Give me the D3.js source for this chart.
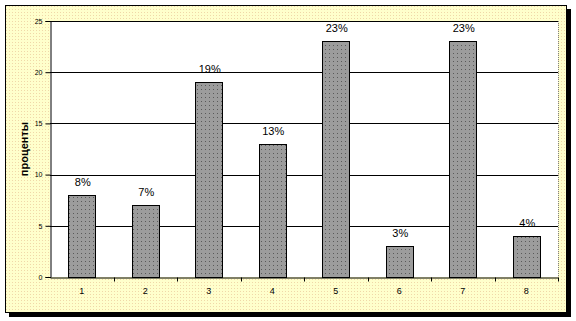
<!DOCTYPE html>
<html>
<head>
<meta charset="utf-8">
<script src="https://cdn.jsdelivr.net/npm/d3@7"></script>
<style>
  body { margin: 0; background: #fff; }
  svg text { font-family: Arial, "Liberation Sans", sans-serif; }
</style>
</head>
<body>
<div id="chart"></div>
<script>
// data
var categories = ['1', '2', '3', '4', '5', '6', '7', '8'];
var values = [8, 7, 19, 13, 23, 3, 23, 4];
var valueLabels = ['8%', '7%', '19%', '13%', '23%', '3%', '23%', '4%'];
var yTicks = [0, 5, 10, 15, 20, 25];
var yTitle = 'проценты';

var width = 576, height = 321;
var plot = { left: 50, top: 21, right: 558, bottom: 277 };

var svg = d3.select('#chart').append('svg')
  .attr('width', width)
  .attr('height', height);

var defs = svg.append('defs');
// dotted yellow background
var bg = defs.append('pattern')
  .attr('id', 'bgDots')
  .attr('width', 3).attr('height', 3)
  .attr('patternUnits', 'userSpaceOnUse');
bg.append('rect').attr('width', 3).attr('height', 3).attr('fill', '#ffffcc');
bg.append('rect').attr('x', 0).attr('y', 0).attr('width', 1).attr('height', 1).attr('fill', '#f0d8a8');

// dotted gray bar fill
var bp = defs.append('pattern')
  .attr('id', 'barDots')
  .attr('width', 4).attr('height', 4)
  .attr('patternUnits', 'userSpaceOnUse');
bp.append('rect').attr('width', 4).attr('height', 4).attr('fill', '#9c9c9c');
bp.append('rect').attr('x', 1).attr('y', 1).attr('width', 1).attr('height', 1).attr('fill', '#5a5a5a');

// frame shadow + frame
svg.append('rect')
  .attr('x', 9).attr('y', 9)
  .attr('width', 562).attr('height', 308)
  .attr('fill', '#000');
svg.append('rect')
  .attr('x', 5.5).attr('y', 5.5)
  .attr('width', 561).attr('height', 307)
  .attr('fill', 'url(#bgDots)')
  .attr('stroke', '#000')
  .attr('stroke-width', 1);

// plot area
svg.append('rect')
  .attr('x', plot.left).attr('y', plot.top)
  .attr('width', plot.right - plot.left).attr('height', plot.bottom - plot.top)
  .attr('fill', '#fff');
svg.append('line')
  .attr('x1', plot.right + 0.5).attr('x2', plot.right + 0.5)
  .attr('y1', plot.top).attr('y2', plot.bottom)
  .attr('stroke', '#808080')
  .attr('stroke-dasharray', '1,1');

var x = d3.scaleBand()
  .domain(categories)
  .range([plot.left, plot.right])
  .paddingInner(0.58)
  .paddingOuter(0.29);
var xOuter = d3.scaleBand()
  .domain(categories)
  .range([plot.left, plot.right]);

var y = d3.scaleLinear()
  .domain([0, 25])
  .range([plot.bottom, plot.top]);

// gridlines
svg.append('g')
  .selectAll('line')
  .data(yTicks.filter(function (d) { return d > 0; }))
  .enter()
  .append('line')
  .attr('x1', plot.left).attr('x2', plot.right)
  .attr('y1', function (d) { return Math.round(y(d)) + 0.5; })
  .attr('y2', function (d) { return Math.round(y(d)) + 0.5; })
  .attr('stroke', '#000')
  .attr('stroke-width', 1);

// bars
svg.append('g')
  .selectAll('rect')
  .data(values)
  .enter()
  .append('rect')
  .attr('x', function (d, i) { return Math.round(x(categories[i])) + 0.5; })
  .attr('y', function (d) { return Math.round(y(d)) + 0.5; })
  .attr('width', Math.round(x.bandwidth()))
  .attr('height', function (d) { return Math.round(y(0)) - Math.round(y(d)); })
  .attr('fill', 'url(#barDots)')
  .attr('stroke', '#000')
  .attr('stroke-width', 1);

// value labels
svg.append('g')
  .selectAll('text')
  .data(values)
  .enter()
  .append('text')
  .attr('x', function (d, i) { return x(categories[i]) + x.bandwidth() / 2 + 1; })
  .attr('y', function (d) { return y(d) - 9; })
  .attr('text-anchor', 'middle')
  .attr('font-size', 11)
  .attr('fill', '#000')
  .text(function (d, i) { return valueLabels[i]; });

// y axis
var yAxis = svg.append('g')
  .attr('transform', 'translate(' + (plot.left + 0.5) + ',0)')
  .call(d3.axisLeft(y).tickValues(yTicks).tickSize(5).tickPadding(3));
yAxis.select('.domain').attr('stroke', '#000');
yAxis.selectAll('.tick line').attr('stroke', '#000');
yAxis.selectAll('text')
  .attr('font-size', 7)
  .attr('font-family', 'Arial, "Liberation Sans", sans-serif')
  .attr('fill', '#000');

// x axis
var xAxis = svg.append('g')
  .attr('transform', 'translate(0,' + (plot.bottom + 0.5) + ')')
  .call(d3.axisBottom(xOuter).tickSize(0).tickPadding(10));
xAxis.select('.domain').attr('stroke', '#000');
xAxis.selectAll('text')
  .attr('font-size', 9)
  .attr('font-family', 'Arial, "Liberation Sans", sans-serif')
  .attr('fill', '#000');
// tick marks between categories
xAxis.selectAll('.sep')
  .data(categories)
  .enter()
  .append('line')
  .attr('class', 'sep')
  .attr('x1', function (d) { return Math.round(xOuter(d) + xOuter.bandwidth()) + 0.5; })
  .attr('x2', function (d) { return Math.round(xOuter(d) + xOuter.bandwidth()) + 0.5; })
  .attr('y1', 0).attr('y2', 4)
  .attr('stroke', '#000');

// y title
svg.append('text')
  .attr('transform', 'translate(28,' + ((plot.top + plot.bottom) / 2) + ') rotate(-90)')
  .attr('text-anchor', 'middle')
  .attr('font-size', 11)
  .attr('font-weight', 'bold')
  .attr('fill', '#000')
  .text(yTitle);
</script>
</body>
</html>
